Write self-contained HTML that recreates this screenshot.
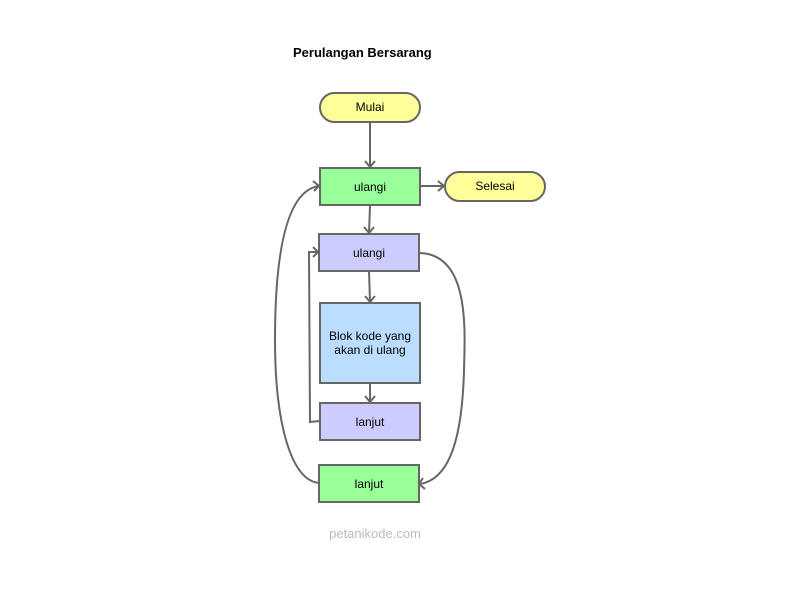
<!DOCTYPE html>
<html><head><style>body{margin:0;background:#fff}svg{display:block}</style></head><body>
<svg width="800" height="600" xmlns="http://www.w3.org/2000/svg" font-family="Liberation Sans, sans-serif">
<rect width="800" height="600" fill="#fff"/>
<text x="293" y="57" font-size="13" font-weight="bold">Perulangan Bersarang</text>
<g stroke="#666" stroke-width="2" fill="none">
<line x1="370" y1="122" x2="370" y2="167"/><polyline points="365,161 370,167 375,161"/>
<line x1="421" y1="186" x2="444" y2="186"/><polyline points="438,181 444,186 438,191"/>
<line x1="370" y1="206" x2="369" y2="233"/><polyline points="364,227 369,233 374,227"/>
<line x1="369" y1="271" x2="370" y2="302"/><polyline points="365,296 370,302 375,296"/>
<line x1="370" y1="383" x2="370" y2="402"/><polyline points="365,396 370,402 375,396"/>
<path d="M320,421 L310,422 L309,252 L318,252"/><polyline points="313,247 318,252 313,257"/>
<path d="M420,253 C470,255 465,330 464,370 C462,450 445,480 420,484"/><polyline points="423,478 419,484 425,489"/>
<path d="M319,483 C290,480 275,420 275,340 C275,240 290,190 319,186"/><polyline points="313,181 319,186 314,191"/>
</g>
<g stroke="#666" stroke-width="2">
<rect x="320" y="93" width="100" height="29" rx="14.5" fill="#ffff99"/>
<rect x="445" y="172" width="100" height="29" rx="14.5" fill="#ffff99"/>
<rect x="320" y="168" width="100" height="37" fill="#99ff99"/>
<rect x="319" y="234" width="100" height="37" fill="#ccccff"/>
<rect x="320" y="303" width="100" height="80" fill="#bbddff"/>
<rect x="320" y="403" width="100" height="37" fill="#ccccff"/>
<rect x="319" y="465" width="100" height="37" fill="#99ff99"/>
</g>
<g font-size="12" text-anchor="middle" fill="#000">
<text x="370" y="111">Mulai</text>
<text x="495" y="190">Selesai</text>
<text x="370" y="191">ulangi</text>
<text x="369" y="257">ulangi</text>
<text x="370" y="340">Blok kode yang</text>
<text x="370" y="354">akan di ulang</text>
<text x="370" y="426">lanjut</text>
<text x="369" y="488">lanjut</text>
</g>
<text x="375" y="538" font-size="13" text-anchor="middle" fill="#bbb">petanikode.com</text>
</svg>
</body></html>
